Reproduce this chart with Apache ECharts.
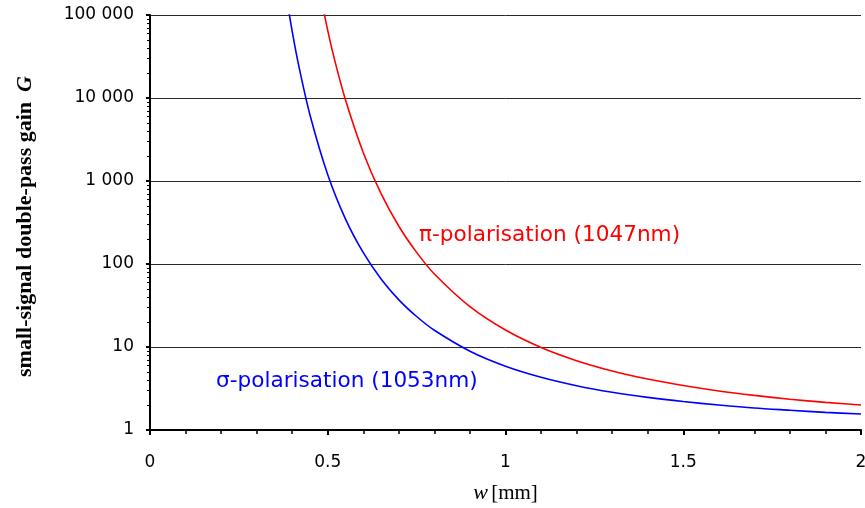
<!DOCTYPE html>
<html>
<head>
<meta charset="utf-8">
<script src="https://cdn.jsdelivr.net/npm/echarts@6/dist/echarts.min.js"></script>
<style>
  html, body { margin: 0; padding: 0; background: #fff; }
  #main { width: 865px; height: 508px; }
</style>
</head>
<body>
<div id="main"></div>
<script>
// beam size w [mm] and gain
var wSigma = [0.38, 0.40, 0.42, 0.45, 0.50, 0.55, 0.60, 0.65, 0.70, 0.75, 0.80, 0.90, 1.00, 1.10, 1.20, 1.30, 1.40, 1.50, 1.60, 1.70, 1.80, 1.90, 2.00];
var gainSigma = [210000, 63500, 22700, 6250, 1190, 348, 137, 66, 37, 23.3, 15.9, 8.9, 5.87, 4.32, 3.42, 2.85, 2.47, 2.20, 2.00, 1.84, 1.73, 1.63, 1.56];

var wPi = [0.47, 0.50, 0.52, 0.55, 0.60, 0.65, 0.70, 0.75, 0.80, 0.90, 1.00, 1.10, 1.20, 1.30, 1.40, 1.50, 1.60, 1.70, 1.80, 1.90, 2.00];
var gainPi = [280000, 64900, 28000, 9480, 2195, 703, 285, 138, 75.8, 30.6, 16.0, 9.87, 6.85, 5.15, 4.11, 3.43, 2.95, 2.61, 2.35, 2.15, 2.00];

// tick labels
var xTickLabels = {0: '0', 0.5: '0.5', 1: '1', 1.5: '1.5', 2: '2'};
var yTickLabels = {1: '1', 10: '10', 100: '100', 1000: '1 000', 10000: '10 000', 100000: '100 000'};

function pairs(xs, ys) {
  var out = [];
  for (var i = 0; i < xs.length; i++) out.push([xs[i], ys[i]]);
  return out;
}

var chart = echarts.init(document.getElementById('main'));

var option = {
  backgroundColor: '#fff',
  animation: false,
  grid: { left: 150, right: 4, top: 15, bottom: 78, outerBoundsMode: 'none', containLabel: false },
  xAxis: {
    type: 'value',
    min: 0,
    max: 2,
    interval: 0.5,
    name: '{i|w} {n|[mm]}',
    nameLocation: 'middle',
    nameGap: 52,
    nameTextStyle: {
      rich: {
        i: { fontFamily: 'Liberation Serif', fontStyle: 'italic', fontSize: 22, color: '#000' },
        n: { fontFamily: 'Liberation Serif', fontSize: 21, color: '#000' }
      }
    },
    axisLine: { onZero: false, lineStyle: { color: '#000', width: 2 } },
    axisTick: { length: 5, lineStyle: { color: '#000', width: 2 } },
    minorTick: { show: true, splitNumber: 5, length: 4, lineStyle: { color: '#000', width: 1.5 } },
    splitLine: { show: false },
    axisLabel: {
      margin: 24,
      fontFamily: 'DejaVu Sans',
      fontSize: 17,
      color: '#000',
      formatter: function (v) { return xTickLabels[v] !== undefined ? xTickLabels[v] : ''; }
    }
  },
  yAxis: {
    type: 'log',
    logBase: 10,
    min: 1,
    max: 100000,
    name: '{b|small-signal double-pass gain}   {g|G}',
    nameLocation: 'middle',
    nameRotate: 90,
    nameGap: 114,
    nameTextStyle: {
      padding: [0, 8, 0, 0],
      rich: {
        b: { fontFamily: 'Liberation Serif', fontWeight: 'bold', fontSize: 22, color: '#000' },
        g: { fontFamily: 'Liberation Serif', fontWeight: 'bold', fontStyle: 'italic', fontSize: 22, color: '#000' }
      }
    },
    axisLine: { lineStyle: { color: '#000', width: 2 } },
    axisTick: { length: 4, lineStyle: { color: '#000', width: 2 } },
    minorTick: { show: true, splitNumber: 9, length: 3, lineStyle: { color: '#000', width: 1 } },
    splitLine: { show: true, lineStyle: { color: '#2a2a2a', width: 1 } },
    axisLabel: {
      margin: 16,
      fontFamily: 'DejaVu Sans',
      fontSize: 17,
      color: '#000',
      formatter: function (v) { return yTickLabels[v] !== undefined ? yTickLabels[v] : ''; }
    }
  },
  series: [
    {
      name: 'sigma',
      type: 'line',
      data: pairs(wSigma, gainSigma),
      showSymbol: false,
      smooth: 0.3,
      clip: true,
      lineStyle: { color: '#0000ff', width: 1.6 }
    },
    {
      name: 'pi',
      type: 'line',
      data: pairs(wPi, gainPi),
      showSymbol: false,
      smooth: 0.3,
      clip: true,
      lineStyle: { color: '#ff0000', width: 1.6 }
    }
  ],
  graphic: [
    {
      type: 'text',
      left: 419,
      top: 224,
      style: { text: 'π-polarisation (1047nm)', fill: '#ff0000', font: '21.6px "DejaVu Sans"' }
    },
    {
      type: 'text',
      left: 216,
      top: 370,
      style: { text: 'σ-polarisation (1053nm)', fill: '#0000ff', font: '21.6px "DejaVu Sans"' }
    }
  ]
};

chart.setOption(option);
</script>
</body>
</html>
